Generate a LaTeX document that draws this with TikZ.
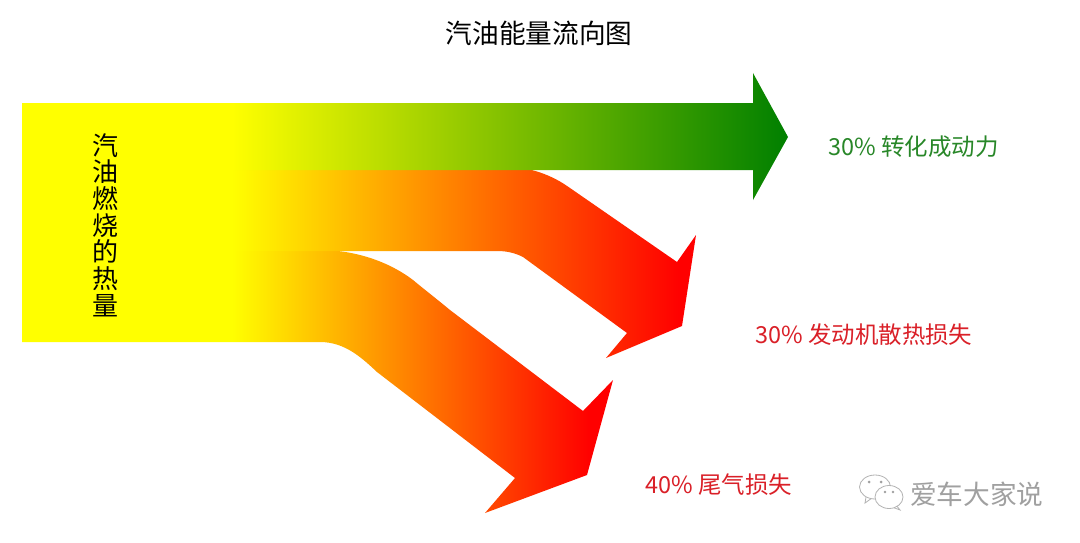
\documentclass[tikz,border=0pt]{standalone}
\usepackage{fontspec}
\setmainfont{Noto Sans CJK SC}
\definecolor{flowgreen}{RGB}{40,135,40}
\definecolor{flowred}{RGB}{218,32,40}
\definecolor{markgray}{RGB}{160,160,160}
\pgfdeclarehorizontalshading{greenflow}{100bp}{rgb(0bp)=(1,1,0); rgb(38.71bp)=(1,1,0); rgb(75bp)=(0,0.5,0); rgb(100bp)=(0,0.5,0)}
\pgfdeclarehorizontalshading{redflowa}{100bp}{rgb(0bp)=(1,1,0); rgb(40.58bp)=(1,1,0); rgb(73.81bp)=(1,0,0); rgb(100bp)=(1,0,0)}
\pgfdeclarehorizontalshading{redflowb}{100bp}{rgb(0bp)=(1,1,0); rgb(42.77bp)=(1,1,0); rgb(73.05bp)=(1,0,0); rgb(100bp)=(1,0,0)}
\tikzset{
  labeltext/.style={font=\fontsize{17.6pt}{19pt}\selectfont,anchor=west,inner sep=0pt},
  titletext/.style={font=\fontsize{20pt}{22pt}\selectfont,inner sep=0pt,text=black},
  sidetext/.style={font=\fontsize{19.5pt}{20pt}\selectfont,inner sep=0pt,text=black},
  marktext/.style={font=\fontsize{20pt}{22pt}\selectfont,inner sep=0pt,anchor=west,text=markgray},
  bubble/.style={draw=markgray!80,fill=white,line width=0.6pt},
}
\begin{document}
\begin{tikzpicture}[x=0.75pt,y=-0.75pt]
\useasboundingbox (0,0) rectangle (1080,542);
\fill[white] (0,0) rectangle (1080,542);
% lower flow
\shade[shading=redflowb] (22,250) -- (338,250) -- (338,251)
  .. controls (365,254) and (392,264) .. (413,280)
  .. controls (425,290) and (438,300) .. (450,310)
  -- (583,411) -- (613,380) -- (587,475) -- (485,513) -- (515,478) -- (377,372)
  .. controls (362,358) and (345,342) .. (320,342)
  -- (22,342) -- cycle;
% middle flow
\shade[shading=redflowa] (22,169) -- (527,169)
  .. controls (542,172) and (556,178) .. (570,188)
  -- (677,262) -- (696,235) -- (682,326) -- (606,358) -- (627,333) -- (523,257)
  .. controls (515,253) and (507,251) .. (497,251)
  -- (22,251) -- cycle;
% upper flow
\shade[shading=greenflow] (22,103) -- (753,103) -- (753,73) -- (788,137) -- (753,200) -- (753,170) -- (22,170) -- cycle;
% texts
\node[titletext] (title) at (539,33) {汽油能量流向图};
\node[sidetext,text width=27*0.75pt,align=center] (source) at (105.5,225) {\baselineskip=20pt 汽\\油\\燃\\烧\\的\\热\\量};
\node[labeltext,text=flowgreen] (lg) at (828,147) {30\% 转化成动力};
\node[labeltext,text=flowred] (la) at (755,335) {30\% 发动机散热损失};
\node[labeltext,text=flowred] (lb) at (645,485) {40\% 尾气损失};
% watermark
\draw[bubble] (866,497) -- (865,503) -- (872,498);
\draw[bubble] (875,487) ellipse (15.5 and 12);
\draw[bubble] (896,505) -- (900,510) -- (892,507);
\draw[bubble] (889,497) ellipse (14 and 11.5);
\fill[markgray] (869,482) circle (1.5) (881,482) circle (1.5) (885,492) circle (1.3) (893,492) circle (1.3);
\node[marktext] (mark) at (910,494) {爱车大家说};
\end{tikzpicture}
\end{document}
